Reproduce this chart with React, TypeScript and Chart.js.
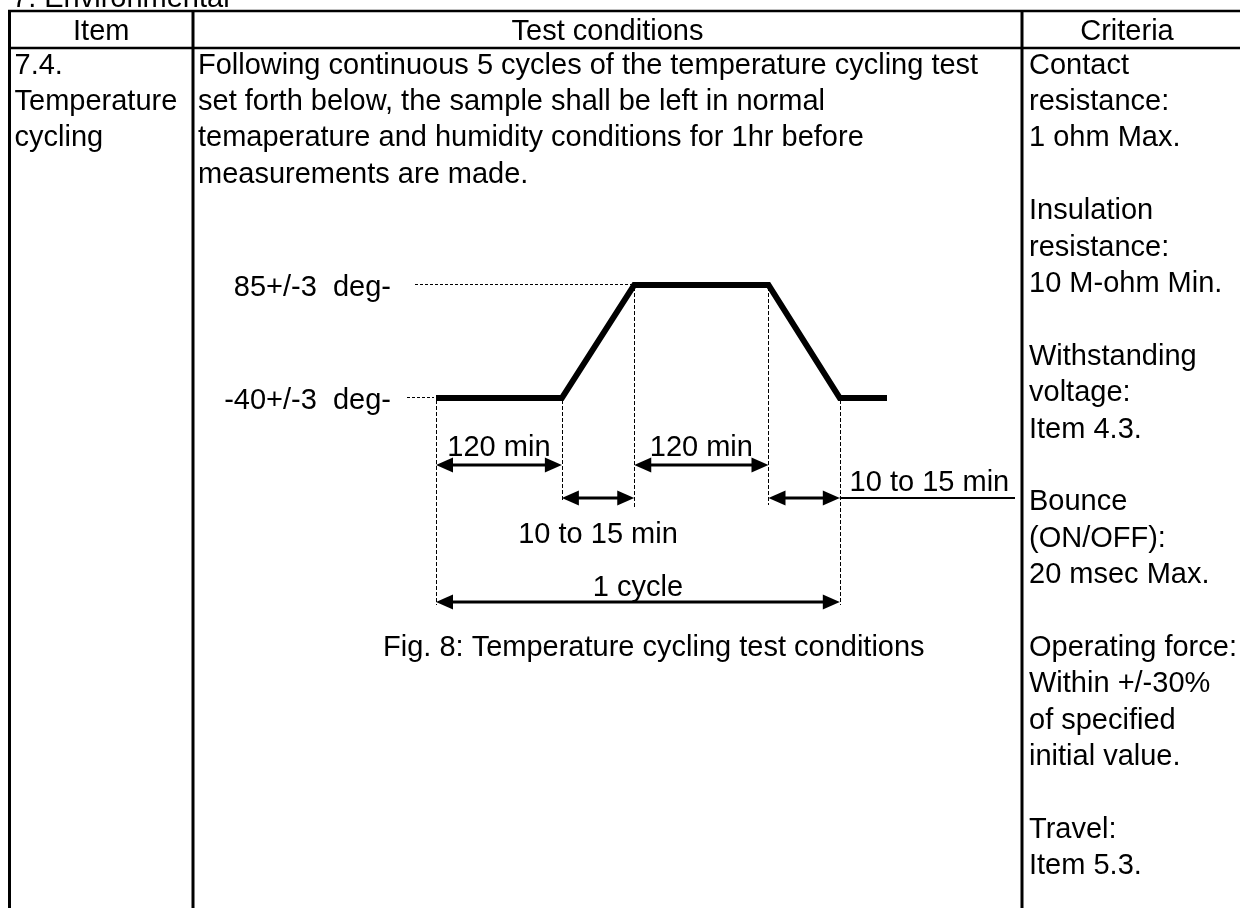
import React, { useEffect, useRef } from "react";
import { Chart, registerables } from "chart.js";

Chart.register(...registerables);

const W = 1240;
const H = 908;
const FONT_PX = 29;
const FONT = `${FONT_PX}px "Liberation Sans", Arial, Helvetica, sans-serif`;

// ---------- text content ----------
const sectionTitle = "7. Environmental";
const headers = ["Item", "Test conditions", "Criteria"];
const itemLines = ["7.4.", "Temperature", "cycling"];
const conditionLines = [
  "Following continuous 5 cycles of the temperature cycling test",
  "set forth below, the sample shall be left in normal",
  "temaperature and humidity conditions for 1hr before",
  "measurements are made.",
];
const criteriaLines = [
  "Contact",
  "resistance:",
  "1 ohm Max.",
  "",
  "Insulation",
  "resistance:",
  "10 M-ohm Min.",
  "",
  "Withstanding",
  "voltage:",
  "Item 4.3.",
  "",
  "Bounce",
  "(ON/OFF):",
  "20 msec Max.",
  "",
  "Operating force:",
  "Within +/-30%",
  "of specified",
  "initial value.",
  "",
  "Travel:",
  "Item 5.3.",
];
const caption = "Fig. 8: Temperature cycling test conditions";

// ---------- diagram data (schematic time in minutes, temperature in deg) ----------
const profileTime = [0, 120, 189, 317, 385, 430];
const profileTemp = [-40, -40, 85, 85, -40, -40];
const levelTemps = [85, -40];
const levelLabels = ["85+/-3  deg-", "-40+/-3  deg-"];
const spanStart = [0, 189, 120, 317, 0];
const spanEnd = [120, 317, 189, 385, 385];
const spanLabels = ["120 min", "120 min", "10 to 15 min", "10 to 15 min", "1 cycle"];

// ---------- layout (pixels) ----------
const colX = [9.5, 193, 1022];
const tableTop = 11;
const headerBottom = 48;
const rowC0 = 63;
const rowH = 36.4;
const capHalf = 10.5;
const textPad = 5;
// dimension rows, offsets below the low-temperature line
const spanArrowOff = [67, 67, 100, 100, 204];
const spanLabelOff = [47, 47, 134, 82, 187];
const guideEndOff = [207, 102, 109, 107, 207];
const leaderEnd = 1015;

const crisp = (v: number) => Math.round(v) + 0.5;

function drawText(ctx: CanvasRenderingContext2D, s: string, x: number, cy: number, align: CanvasTextAlign) {
  ctx.textAlign = align;
  ctx.fillText(s, x, cy + capHalf);
}

function arrowHead(ctx: CanvasRenderingContext2D, tipX: number, y: number, dir: number) {
  const hl = 17;
  const hh = 7.5;
  ctx.beginPath();
  ctx.moveTo(tipX, y);
  ctx.lineTo(tipX - dir * hl, y - hh);
  ctx.lineTo(tipX - dir * hl, y + hh);
  ctx.closePath();
  ctx.fill();
}

function dblArrow(ctx: CanvasRenderingContext2D, x1: number, x2: number, y: number) {
  ctx.setLineDash([]);
  ctx.lineWidth = 3;
  ctx.beginPath();
  ctx.moveTo(x1 + 8, y);
  ctx.lineTo(x2 - 8, y);
  ctx.stroke();
  arrowHead(ctx, x1, y, -1);
  arrowHead(ctx, x2, y, 1);
}

const docPlugin = {
  id: "docPlugin",
  beforeDraw(chart: any) {
    const ctx: CanvasRenderingContext2D = chart.ctx;
    ctx.save();
    ctx.fillStyle = "#fff";
    ctx.fillRect(0, 0, W, H);
    ctx.strokeStyle = "#000";
    ctx.fillStyle = "#000";
    // table lines
    ctx.lineWidth = 2.5;
    ctx.beginPath();
    ctx.moveTo(colX[0] - 1.5, tableTop);
    ctx.lineTo(W, tableTop);
    ctx.moveTo(colX[0] - 1.5, headerBottom);
    ctx.lineTo(W, headerBottom);
    ctx.stroke();
    ctx.lineWidth = 3;
    ctx.beginPath();
    for (const x of colX) {
      ctx.moveTo(x, tableTop - 1);
      ctx.lineTo(x, H);
    }
    ctx.stroke();
    // text
    ctx.font = FONT;
    drawText(ctx, sectionTitle, 12, 7 - capHalf, "left");
    drawText(ctx, headers[0], (colX[0] + colX[1]) / 2, (tableTop + headerBottom) / 2, "center");
    drawText(ctx, headers[1], (colX[1] + colX[2]) / 2, (tableTop + headerBottom) / 2, "center");
    drawText(ctx, headers[2], 1127, (tableTop + headerBottom) / 2, "center");
    itemLines.forEach((s, i) => drawText(ctx, s, colX[0] + textPad, rowC0 + i * rowH, "left"));
    conditionLines.forEach((s, i) => drawText(ctx, s, colX[1] + textPad, rowC0 + i * rowH, "left"));
    criteriaLines.forEach((s, i) => {
      if (s) drawText(ctx, s, colX[2] + textPad + 2, rowC0 + i * rowH, "left");
    });
    ctx.restore();
  },
  beforeDatasetsDraw(chart: any) {
    const ctx: CanvasRenderingContext2D = chart.ctx;
    const xs = chart.scales.x;
    const ys = chart.scales.y;
    ctx.save();
    ctx.strokeStyle = "#000";
    ctx.fillStyle = "#000";
    ctx.font = FONT;
    const x0 = xs.getPixelForValue(profileTime[0]);
    const xTop = xs.getPixelForValue(profileTime[2]);
    // level labels and dotted guides
    levelTemps.forEach((t, i) => {
      const y = ys.getPixelForValue(t);
      drawText(ctx, levelLabels[i], 391, y, "right");
      const yc = crisp(y - 1);
      ctx.lineWidth = 1;
      ctx.setLineDash([3, 2]);
      ctx.beginPath();
      if (i === 0) {
        ctx.moveTo(415, yc);
        ctx.lineTo(xTop, yc);
      } else {
        ctx.moveTo(407, yc);
        ctx.lineTo(x0 - 2, yc);
      }
      ctx.stroke();
    });
    // vertical dashed guides
    const yLow = ys.getPixelForValue(-40);
    ctx.lineWidth = 1;
    ctx.setLineDash([4, 2]);
    for (let i = 0; i < 5; i++) {
      const x = crisp(xs.getPixelForValue(profileTime[i]));
      const y = ys.getPixelForValue(profileTemp[i]);
      ctx.beginPath();
      ctx.moveTo(x, y + 2);
      ctx.lineTo(x, yLow + guideEndOff[i]);
      ctx.stroke();
    }
    ctx.restore();
  },
  afterDatasetsDraw(chart: any) {
    const ctx: CanvasRenderingContext2D = chart.ctx;
    const xs = chart.scales.x;
    const ys = chart.scales.y;
    const yLow = ys.getPixelForValue(-40);
    ctx.save();
    ctx.strokeStyle = "#000";
    ctx.fillStyle = "#000";
    ctx.font = FONT;
    for (let i = 0; i < spanStart.length; i++) {
      const xa = xs.getPixelForValue(spanStart[i]);
      const xb = xs.getPixelForValue(spanEnd[i]);
      const y = yLow + spanArrowOff[i];
      dblArrow(ctx, xa, xb, y);
      if (i === 3) {
        ctx.lineWidth = 2;
        ctx.beginPath();
        ctx.moveTo(xb, y);
        ctx.lineTo(leaderEnd, y);
        ctx.stroke();
        drawText(ctx, spanLabels[i], (xb + leaderEnd) / 2 + 2, yLow + spanLabelOff[i], "center");
      } else {
        drawText(ctx, spanLabels[i], (xa + xb) / 2, yLow + spanLabelOff[i], "center");
      }
    }
    drawText(ctx, caption, 383, 645, "left");
    ctx.restore();
  },
};

export default function App() {
  const ref = useRef<HTMLCanvasElement | null>(null);
  useEffect(() => {
    document.body.style.margin = "0";
    const canvas = ref.current;
    if (!canvas) return;
    const chart = new Chart(canvas, {
      type: "line",
      data: {
        datasets: [
          {
            data: profileTime.map((t, i) => ({ x: t, y: profileTemp[i] })),
            borderColor: "#000",
            borderWidth: 6,
            pointRadius: 0,
            fill: false,
            tension: 0,
            clip: false as any,
            borderJoinStyle: "miter",
            borderCapStyle: "butt",
          },
        ],
      },
      options: {
        animation: false,
        responsive: false,
        devicePixelRatio: 1,
        layout: { padding: { left: 436, right: W - 887, top: 285, bottom: H - 398 } },
        scales: {
          x: { type: "linear", display: false, min: 0, max: 430 },
          y: { type: "linear", display: false, min: -40, max: 85 },
        },
        plugins: { legend: { display: false }, tooltip: { enabled: false } },
        events: [],
      },
      plugins: [docPlugin],
    });
    return () => chart.destroy();
  }, []);
  return (
    <div style={{ position: "fixed", left: 0, top: 0, width: W, height: H, background: "#fff" }}>
      <canvas ref={ref} width={W} height={H} style={{ display: "block", width: W, height: H }} />
    </div>
  );
}
